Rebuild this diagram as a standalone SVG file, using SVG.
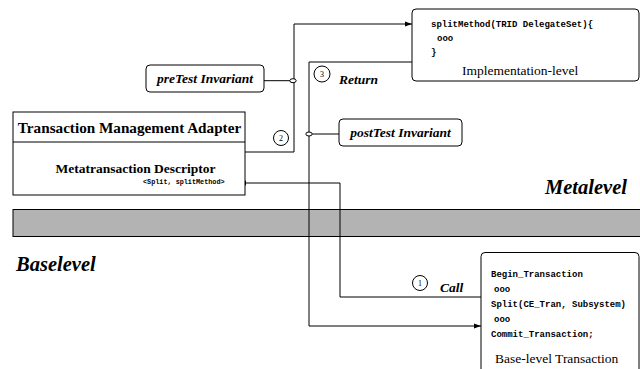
<svg xmlns="http://www.w3.org/2000/svg" width="640" height="369" viewBox="0 0 640 369">
<defs>
<marker id="arr" markerWidth="8" markerHeight="6" refX="7" refY="3" orient="auto" markerUnits="userSpaceOnUse">
<path d="M0,0.5 L7,3 L0,5.5 Z" fill="#000"/>
</marker>
<style>
.box{fill:#fff;stroke:#000;stroke-width:1}
.ln{fill:none;stroke:#000;stroke-width:1}
.lab{font-family:"Liberation Serif",serif;font-weight:bold;font-style:italic;font-size:13.5px;fill:#000}
.big{font-family:"Liberation Serif",serif;font-weight:bold;font-style:italic;font-size:20.5px;fill:#000}
.mono{font-family:"Liberation Mono",monospace;font-weight:bold;font-size:9px;fill:#000}
.ser{font-family:"Liberation Serif",serif;font-size:13.5px;fill:#000}
.num{font-family:"Liberation Serif",serif;font-size:8px;fill:#000;text-anchor:middle}
.circ{fill:#fff;stroke:#000;stroke-width:1}
.knob{fill:#fff;stroke:#000;stroke-width:1}
</style>
</defs>
<rect width="640" height="369" fill="#fff"/>

<g id="band">
<rect x="13" y="209.5" width="630" height="27" fill="#b3b3b3" stroke="#000" stroke-width="1"/>
</g>
<g id="metalevel"><text class="big" x="545" y="194">Metalevel</text></g>
<g id="baselevel"><text class="big" x="16" y="271">Baselevel</text></g>

<g id="connectors">
<polyline class="ln" points="245,152 294,152 294,24 412,24" marker-end="url(#arr)"/>
<line class="ln" x1="264" y1="80.7" x2="294" y2="80.7"/>
<polyline class="ln" points="416,62 309,62 309,326 481,326" marker-end="url(#arr)"/>
<line class="ln" x1="309" y1="134" x2="339" y2="134"/>
<polyline class="ln" points="483,297 340,297 340,183 239,183" marker-end="url(#arr)"/>
<ellipse class="knob" cx="293" cy="80.7" rx="3.2" ry="2"/>
<ellipse class="knob" cx="309" cy="134" rx="3.2" ry="2"/>
</g>

<g id="adapter">
<rect class="box" x="13" y="112" width="232" height="83"/>
<line class="ln" x1="13" y1="142" x2="245" y2="142"/>
<text x="129.5" y="133" text-anchor="middle" font-family="Liberation Serif, serif" font-weight="bold" font-size="15.2">Transaction Management Adapter</text>
<text x="135.5" y="173" text-anchor="middle" font-family="Liberation Serif, serif" font-weight="bold" font-size="13.5">Metatransaction Descriptor</text>
<text x="143" y="184" font-family="Liberation Mono, monospace" font-weight="bold" font-size="6.8">&lt;Split, splitMethod&gt;</text>
</g>

<g id="impl">
<rect class="box" x="412" y="9" width="227" height="72" rx="4"/>
<text class="mono" x="431" y="27">splitMethod(TRID DelegateSet){</text>
<text class="mono" x="437" y="41">ooo</text>
<text class="mono" x="431" y="55">}</text>
<text class="ser" x="462" y="75">Implementation-level</text>
</g>

<g id="pretest">
<rect class="box" x="146" y="65" width="118" height="27" rx="4"/>
<text class="lab" x="205" y="83" text-anchor="middle">preTest Invariant</text>
</g>

<g id="posttest">
<rect class="box" x="339" y="119" width="123" height="27" rx="4"/>
<text class="lab" x="400.5" y="137" text-anchor="middle">postTest Invariant</text>
</g>

<g id="step2">
<circle class="circ" cx="281" cy="138" r="7.5"/>
<text class="num" x="281" y="141">2</text>
</g>
<g id="step3">
<circle class="circ" cx="322" cy="74" r="8"/>
<text class="num" x="322" y="77">3</text>
<text class="lab" x="339" y="84">Return</text>
</g>
<g id="step1">
<circle class="circ" cx="420" cy="283" r="7.5"/>
<text class="num" x="420" y="286">1</text>
<text class="lab" x="440" y="292">Call</text>
</g>

<g id="base">
<rect class="box" x="481" y="252.5" width="158" height="130" rx="4"/>
<text class="mono" x="491" y="277">Begin_Transaction</text>
<text class="mono" x="494" y="292">ooo</text>
<text class="mono" x="491" y="307">Split(CE_Tran, Subsystem)</text>
<text class="mono" x="494" y="322">ooo</text>
<text class="mono" x="491" y="337">Commit_Transaction;</text>
<text class="ser" x="495" y="363">Base-level Transaction</text>
</g>
</svg>
